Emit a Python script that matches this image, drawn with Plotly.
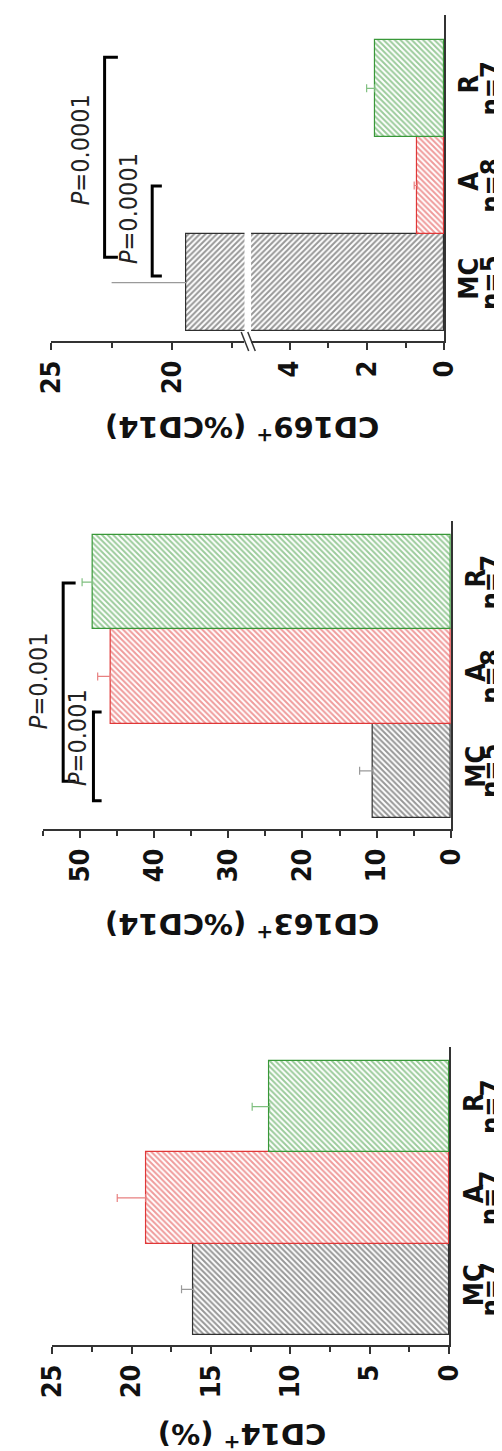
import plotly.graph_objects as go

# ---------------- data ----------------
groups = ["MC", "A", "R"]

cd169_mean = [19.4, 0.70, 1.80]
cd169_err = [3.1, 0.08, 0.21]
cd169_n = ["n=5", "n=8", "n=7"]

cd163_mean = [10.5, 45.9, 48.3]
cd163_err = [1.8, 1.7, 1.4]
cd163_n = ["n=5", "n=8", "n=7"]

cd14_mean = [16.1, 19.1, 11.3]
cd14_err = [0.75, 1.8, 1.1]
cd14_n = ["n=7", "n=7", "n=7"]

cd169_tests = [("MC", "A", "P=0.0001"), ("MC", "R", "P=0.0001")]
cd163_tests = [("MC", "A", "P=0.001"), ("MC", "R", "P=0.001")]

# ---------------- styling ----------------
W, H = 502, 1451
FG = {"MC": "#303030", "A": "#e03838", "R": "#389838"}
ERR = {"MC": "#9a9a9a", "A": "#e88080", "R": "#80c080"}
NARROW = "Liberation Sans Narrow, Arial Narrow, DejaVu Sans Condensed, sans-serif"
WIDE = "DejaVu Sans, Arial, sans-serif"
AX = "#333333"
PAT_SIZE = 4
PAT_SOLID = 0.5


def px_x(a, b):
    return [a / W, b / W]


def px_y(top, bottom):
    return [1 - bottom / H, 1 - top / H]


fig = go.Figure()
idx = {g: i for i, g in enumerate(groups)}


def bar_trace(g, mean, err, xa, ya, shape, show_err, cap):
    return go.Bar(
        y=[idx[g]], x=[mean], orientation="h", width=1.0,
        xaxis=xa, yaxis=ya, showlegend=False,
        marker=dict(color="white", line=dict(color=FG[g], width=1.2),
                    pattern=dict(shape=shape, fgcolor=FG[g], size=PAT_SIZE,
                                 solidity=PAT_SOLID, fillmode="overlay")),
        error_x=dict(type="data", array=[err], arrayminus=[0],
                     symmetric=False, visible=show_err,
                     color=ERR[g], thickness=1.2, width=cap),
    )


# Panel 1: CD169 with broken value axis (upper segment x, lower segment x2)
for i, g in enumerate(groups):
    shp = "/" if g == "MC" else "\\"
    fig.add_trace(bar_trace(g, cd169_mean[i], cd169_err[i], "x", "y", shp,
                            g == "MC", 0))
    fig.add_trace(bar_trace(g, cd169_mean[i], cd169_err[i], "x2", "y", shp,
                            g != "MC", 4))

# Panel 2: CD163
for i, g in enumerate(groups):
    fig.add_trace(bar_trace(g, cd163_mean[i], cd163_err[i], "x3", "y2", "\\", True, 4))
# Panel 3: CD14
for i, g in enumerate(groups):
    fig.add_trace(bar_trace(g, cd14_mean[i], cd14_err[i], "x4", "y3", "\\", True, 4))

tickfont = dict(family=NARROW, size=27, color="#111", weight="bold")


def xaxis_common(rng, dom, anchor, tickvals, minorvals):
    return dict(range=rng, domain=dom, anchor=anchor, showgrid=False, zeroline=False,
                showline=True, linecolor=AX, linewidth=1.5,
                ticks="outside", ticklen=7, tickwidth=1.5, tickcolor=AX,
                tickvals=tickvals, ticktext=[str(v) for v in tickvals],
                tickangle=-90, tickfont=tickfont,
                minor=dict(tickvals=minorvals, ticks="outside", ticklen=5,
                           tickwidth=1.5, tickcolor=AX))


def yaxis_common(rng, dom, anchor):
    return dict(range=rng, domain=dom, anchor=anchor, side="right",
                showgrid=False, zeroline=False, showline=True,
                linecolor=AX, linewidth=1.5, ticks="",
                tickvals=list(range(len(groups))), ticktext=groups,
                tickangle=-90, tickfont=tickfont)


# geometry (pixels)
P1_UP = (29, 235)
P1_LO = (242, 448)
P1_Y = (7, 333)
P2_X = (20, 455)
P2_Y = (513, 821)
P3_X = (30, 453)
P3_Y = (1039, 1337)

fig.update_layout(
    xaxis=xaxis_common([25, 17], px_x(*P1_UP), "y", [20, 25], [17.5, 22.5]),
    xaxis2=xaxis_common([5, 0], px_x(*P1_LO), "y", [0, 2, 4], [1, 3]),
    yaxis=yaxis_common([-0.6, 2.754], px_y(*P1_Y), "x2"),
    xaxis3=xaxis_common([55, 0], px_x(*P2_X), "y2", [0, 10, 20, 30, 40, 50],
                        [5, 15, 25, 35, 45, 55]),
    yaxis2=yaxis_common([-0.617, 2.648], px_y(*P2_Y), "x3"),
    xaxis4=xaxis_common([25, 0], px_x(*P3_X), "y3", [0, 5, 10, 15, 20, 25],
                        [2.5, 7.5, 12.5, 17.5, 22.5]),
    yaxis3=yaxis_common([-0.61, 2.653], px_y(*P3_Y), "x4"),
)

# "n=" second lines of category labels
for ns, ya in [(cd169_n, "y"), (cd163_n, "y2"), (cd14_n, "y3")]:
    for i, t in enumerate(ns):
        fig.add_annotation(text=t, x=497 / W, xref="paper", y=i, yref=ya,
                           textangle=-90, showarrow=False, xanchor="center",
                           yanchor="middle", font=dict(family=NARROW, size=27,
                                                       color="#111", weight="bold"))

# titles (upside-down)
titles = [("CD169<sup>+</sup> (%CD14)", 421), ("CD163<sup>+</sup> (%CD14)", 918),
          ("CD14<sup>+</sup> (%)", 1428)]
for t, yp in titles:
    fig.add_annotation(text=t, x=233 / W, y=1 - yp / H, xref="paper", yref="paper",
                       textangle=180, showarrow=False, xanchor="center", yanchor="middle",
                       font=dict(family=WIDE, size=29, color="#111", weight="bold"))

# significance brackets: (bracket level, cap end, y-start, y-end, label x, label y, label shift px)
brk1 = [(20.82, 20.42, 0.069, 0.995, 21.82, 0.758, 0),
        (22.79, 22.24, 0.261, 2.319, 23.8, 1.365, 0)]
brk2 = [(48.17, 47.07, -0.317, 0.624, 50.25, 0.348, 0),
        (52.25, 50.57, -0.111, 1.992, 55.0, 0.958, -4)]
for tests, brks, xr, yr in [(cd169_tests, brk1, "x", "y"), (cd163_tests, brk2, "x3", "y2")]:
    for (g1, g2, lab), (bx, cx, y0, y1, lx, ly, sh) in zip(tests, brks):
        fig.add_shape(type="path", xref=xr, yref=yr,
                      path=f"M {cx},{y0} L {bx},{y0} L {bx},{y1} L {cx},{y1}",
                      line=dict(color="black", width=3))
        txt = "<i>P</i>" + lab[1:]
        fig.add_annotation(text=txt, x=lx, y=ly, xref=xr, yref=yr, textangle=-90,
                           xshift=sh, showarrow=False, xanchor="center", yanchor="middle",
                           font=dict(family=NARROW, size=25, color="#222"))

# axis break marks
ybase = 1 - P1_Y[1] / H
for xp in (P1_UP[1] + 0.5, P1_LO[0] + 0.5):
    fig.add_shape(type="line", xref="paper", yref="paper",
                  x0=(xp - 4) / W, x1=(xp + 4) / W,
                  y0=ybase + 9 / H, y1=ybase - 10 / H,
                  line=dict(color=AX, width=1.5))

fig.update_layout(width=W, height=H, autosize=False, margin=dict(l=0, r=0, t=0, b=0),
                  paper_bgcolor="white", plot_bgcolor="white", bargap=0,
                  barmode="overlay")

fig.write_html("out.html")
